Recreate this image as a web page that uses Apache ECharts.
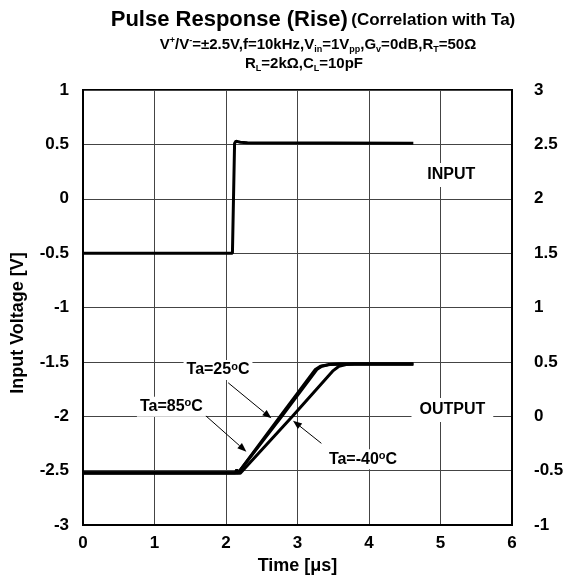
<!DOCTYPE html>
<html>
<head>
<meta charset="utf-8">
<script src="https://cdn.jsdelivr.net/npm/echarts@6/dist/echarts.min.js"></script>
<style>html,body{margin:0;padding:0;background:#fff;}#c{width:568px;height:582px;}</style>
</head>
<body>
<div id="c"></div>
<script>
// ---- data ----
const xTicks = [0, 1, 2, 3, 4, 5, 6];
const inputT = [0, 2.09, 2.12, 2.14, 2.2, 2.3, 4.62];
const inputV = [-0.5, -0.5, 0.51, 0.53, 0.52, 0.515, 0.51];
const out25T = [0, 2.13, 2.15, 2.17, 2.19, 2.78, 3.27, 3.34, 3.45, 3.6, 4.62];
const out25V = [-0.52, -0.52, -0.49, -0.52, -0.52, 0.0, 0.43, 0.46, 0.475, 0.48, 0.48];
const out85T = [0, 2.17, 2.76, 3.25, 3.32, 3.43, 3.6, 4.62];
const out85V = [-0.52, -0.52, 0.0, 0.43, 0.46, 0.475, 0.48, 0.48];
const outM40T = [0, 2.2, 2.93, 3.5, 3.58, 3.68, 3.8, 4.62];
const outM40V = [-0.525, -0.525, 0.0, 0.42, 0.46, 0.475, 0.48, 0.48];

// annotation texts and anchor points (right-axis units)
const noteTexts = ['Ta=25{s|o}C', 'Ta=85{s|o}C', 'Ta=-40{s|o}C', 'OUTPUT', 'INPUT'];
const notePos = [[1.888, 0.425], [1.236, 0.088], [3.916, -0.396], [5.166, 0.057], [5.15, 2.218]];
const arrows = [
  [2.03, 0.308, 2.635, -0.019],
  [1.716, 0.005, 2.285, -0.326],
  [3.334, -0.249, 2.937, -0.041]
];

const FONT = "'Liberation Sans', Arial, Helvetica, sans-serif";
const zip = (a, b) => a.map((v, i) => [v, b[i]]);

const chart = echarts.init(document.getElementById('c'), null, {renderer: 'canvas'});

const option = {
  animation: false,
  backgroundColor: '#fff',
  grid: {left: 83, right: 56, top: 90, bottom: 57, show: true, borderColor: '#000', borderWidth: 2, backgroundColor: 'transparent'},
  xAxis: {
    type: 'value', min: 0, max: 6, interval: 1,
    name: 'Time [\u03bcs]', nameLocation: 'middle', nameGap: 32,
    nameTextStyle: {fontFamily: FONT, fontWeight: 'bold', fontSize: 18, color: '#000'},
    axisLine: {show: true, onZero: false, lineStyle: {color: '#000', width: 2}},
    axisTick: {show: false},
    axisLabel: {fontFamily: FONT, fontWeight: 'bold', fontSize: 17, color: '#000', margin: 10},
    splitLine: {show: true, lineStyle: {color: '#444', width: 1}}
  },
  yAxis: [
    {
      type: 'value', min: -3, max: 1, interval: 0.5, position: 'left',
      axisLine: {show: true, onZero: false, lineStyle: {color: '#000', width: 2}},
      axisTick: {show: false},
      axisLabel: {fontFamily: FONT, fontWeight: 'bold', fontSize: 17, color: '#000', margin: 14},
      splitLine: {show: true, lineStyle: {color: '#444', width: 1}}
    },
    {
      type: 'value', min: -1, max: 3, interval: 0.5, position: 'right',
      axisLine: {show: true, onZero: false, lineStyle: {color: '#000', width: 2}},
      axisTick: {show: false},
      axisLabel: {fontFamily: FONT, fontWeight: 'bold', fontSize: 17, color: '#000', margin: 22},
      splitLine: {show: false}
    }
  ],
  graphic: [
    {type: 'text', x: 313, y: 20, style: {
      text: '{a|Pulse Response (Rise)} {b|(Correlation with Ta)}',
      textAlign: 'center', textVerticalAlign: 'middle',
      rich: {
        a: {fontFamily: FONT, fontWeight: 'bold', fontSize: 22, color: '#000'},
        b: {fontFamily: FONT, fontWeight: 'bold', fontSize: 17, color: '#000'}
      }
    }},
    {type: 'text', x: 318, y: 45, style: {
      text: 'V{p|+}/V{p|-}=\u00b12.5V,f=10kHz,V{d|in}=1V{d|pp},G{d|v}=0dB,R{d|T}=50\u03a9',
      textAlign: 'center', textVerticalAlign: 'middle',
      rich: {
        p: {fontFamily: FONT, fontWeight: 'bold', fontSize: 9, lineHeight: 9, verticalAlign: 'top', color: '#000'},
        d: {fontFamily: FONT, fontWeight: 'bold', fontSize: 9, lineHeight: 9, verticalAlign: 'bottom', color: '#000'}
      },
      fontFamily: FONT, fontWeight: 'bold', fontSize: 15, lineHeight: 18, fill: '#000'
    }},
    {type: 'text', x: 304, y: 64, style: {
      text: 'R{d|L}=2k\u03a9,C{d|L}=10pF',
      textAlign: 'center', textVerticalAlign: 'middle',
      rich: {
        d: {fontFamily: FONT, fontWeight: 'bold', fontSize: 9, lineHeight: 9, verticalAlign: 'bottom', color: '#000'}
      },
      fontFamily: FONT, fontWeight: 'bold', fontSize: 15, lineHeight: 18, fill: '#000'
    }},
    {type: 'text', x: 18, y: 323, rotation: Math.PI / 2, style: {
      text: 'Input Voltage [V]', textAlign: 'center', textVerticalAlign: 'middle',
      fontFamily: FONT, fontWeight: 'bold', fontSize: 18, fill: '#000'
    }}
  ],
  series: [
    {type: 'line', name: 'INPUT', yAxisIndex: 0, data: zip(inputT, inputV), showSymbol: false, symbol: 'none',
      lineStyle: {color: '#000', width: 3}, z: 5},
    {type: 'line', name: 'Ta=85', yAxisIndex: 1, data: zip(out85T, out85V), showSymbol: false, symbol: 'none',
      lineStyle: {color: '#000', width: 3}, z: 5},
    {type: 'line', name: 'Ta=25', yAxisIndex: 1, data: zip(out25T, out25V), showSymbol: false, symbol: 'none',
      lineStyle: {color: '#000', width: 3}, z: 5},
    {type: 'line', name: 'Ta=-40', yAxisIndex: 1, data: zip(outM40T, outM40V), showSymbol: false, symbol: 'none',
      lineStyle: {color: '#000', width: 3}, z: 5},
    {
      type: 'custom', name: 'arrows', yAxisIndex: 1, z: 6, silent: true,
      encode: {x: [0, 2], y: [1, 3]},
      data: arrows,
      renderItem: function (params, api) {
        const p1 = api.coord([api.value(0), api.value(1)]);
        const p2 = api.coord([api.value(2), api.value(3)]);
        const dx = p2[0] - p1[0], dy = p2[1] - p1[1];
        const len = Math.sqrt(dx * dx + dy * dy);
        const ux = dx / len, uy = dy / len;
        const hl = 9, hw = 3.5;
        const bx = p2[0] - ux * hl, by = p2[1] - uy * hl;
        return {
          type: 'group',
          children: [
            {type: 'line', shape: {x1: p1[0], y1: p1[1], x2: bx, y2: by}, style: {stroke: '#000', lineWidth: 1}},
            {type: 'polygon', shape: {points: [[p2[0], p2[1]], [bx - uy * hw, by + ux * hw], [bx + uy * hw, by - ux * hw]]},
              style: {fill: '#000'}}
          ]
        };
      }
    },
    {
      type: 'custom', name: 'notes', yAxisIndex: 1, z: 7, silent: true,
      encode: {x: 0, y: 1},
      data: notePos.map((p, i) => [p[0], p[1], i]),
      renderItem: function (params, api) {
        const p = api.coord([api.value(0), api.value(1)]);
        const idx = api.value(2);
        const big = idx >= 3;
        return {
          type: 'text', x: p[0], y: p[1],
          style: {
            text: noteTexts[idx],
            align: 'center', verticalAlign: 'middle',
            fontFamily: FONT, fontWeight: 'bold', fontSize: 16, lineHeight: 18, fill: '#000',
            backgroundColor: '#fff', padding: big ? [3, 8] : [1, 3],
            rich: {
              s: {fontFamily: FONT, fontWeight: 'bold', fontSize: 11, lineHeight: 3, verticalAlign: 'top', fill: '#000'}
            }
          }
        };
      }
    }
  ]
};
chart.setOption(option);
</script>
</body>
</html>
